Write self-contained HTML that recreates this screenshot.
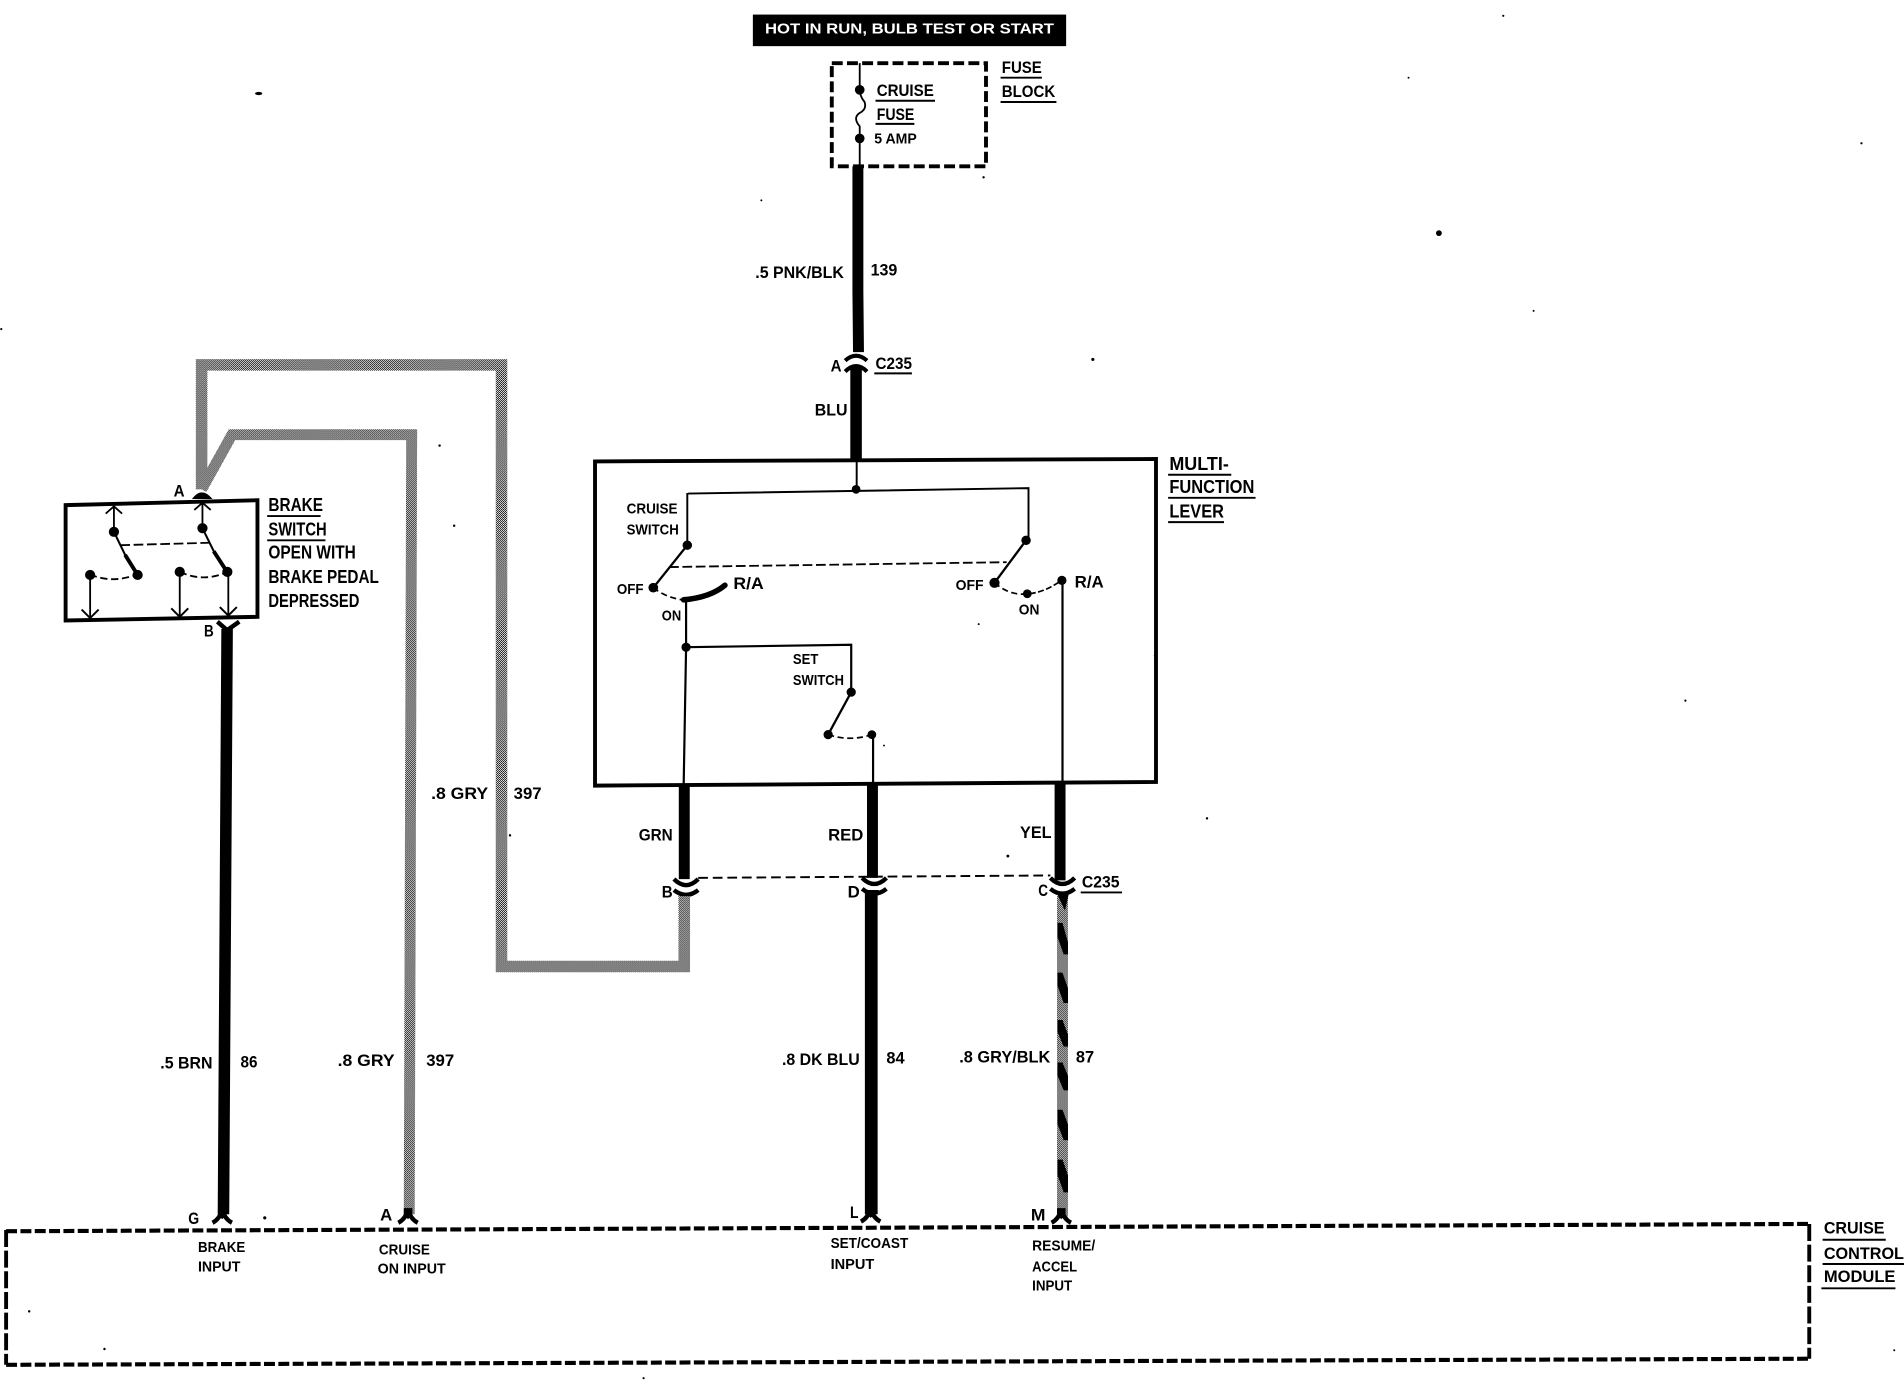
<!DOCTYPE html>
<html><head><meta charset="utf-8"><title>Cruise control wiring diagram</title>
<style>
html,body{margin:0;padding:0;background:#fff;width:1904px;height:1392px;overflow:hidden}
svg{display:block}
text{font-family:"Liberation Sans",sans-serif;font-weight:bold;fill:#000}
.s{font-size:15px}.m{font-size:13.5px}.x{font-size:12px}
.w{fill:none;stroke:#000}
.u{stroke:#000;stroke-width:1.6;fill:none}
</style></head><body>
<svg width="1904" height="1392" viewBox="0 0 1568 1146.4" xmlns="http://www.w3.org/2000/svg">
<defs>
<pattern id="g" width="1.66" height="1.66" patternUnits="userSpaceOnUse">
<rect width="1.66" height="1.66" fill="#fff"/><rect width=".83" height=".83" fill="#000"/><rect x=".83" y=".83" width=".83" height=".83" fill="#000"/>
</pattern>
<g id="c2"><path class="w" stroke-width="3.6" d="M-10,-4Q0,6 10,-4"/><path class="w" stroke-width="3.6" d="M-10,5Q0,13 10,5"/></g>
<g id="up"><path class="w" stroke-width="3.6" d="M-8,6Q-2,3 0,-5Q2,3 8,6"/><path d="M-3.500,-6H3.500V0L0,3L-3.500,0Z" fill="#000"/></g>
<g id="ar"><path class="w" stroke-width="1.6" d="M-7,-7L0,0L7,-7"/></g>
</defs>
<rect width="1568" height="1146.4" fill="#fff"/>

<!-- banner -->
<rect x="620" y="12" width="258" height="26" fill="#000"/>
<text x="630" y="27.500" font-size="12.500" style="fill:#fff" textLength="238" lengthAdjust="spacingAndGlyphs">HOT IN RUN, BULB TEST OR START</text>

<!-- fuse block -->
<rect x="685" y="52" width="127" height="85" fill="none" stroke="#000" stroke-width="3.200" stroke-dasharray="9 3.500"/>
<path class="w" stroke-width="1.500" d="M708,52V74Q708,79 712,84Q714,90 708,93Q702,97 708,104V137"/>
<circle cx="708" cy="74" r="4"/><circle cx="708" cy="114" r="4"/>
<text class="m" x="722" y="79" textLength="47" lengthAdjust="spacingAndGlyphs">CRUISE</text><path class="u" d="M721,83H770"/>
<text class="m" x="722" y="99" textLength="31" lengthAdjust="spacingAndGlyphs">FUSE</text><path class="u" d="M721,102H753"/>
<text class="x" x="720" y="118" font-size="11" textLength="35" lengthAdjust="spacingAndGlyphs">5 AMP</text>
<text class="m" x="825" y="60" textLength="33" lengthAdjust="spacingAndGlyphs">FUSE</text><path class="u" d="M824,64H858"/>
<text class="m" x="825" y="80" textLength="44" lengthAdjust="spacingAndGlyphs">BLOCK</text><path class="u" d="M824,84H870"/>

<!-- top wire -->
<path class="w" stroke-width="9" d="M706.500,137V240L707,290"/>
<path class="w" stroke-width="9.500" d="M705,301V379"/>
<path class="w" stroke-width="3.400" d="M696,297Q705,289 714,297"/>
<path class="w" stroke-width="3.400" d="M696,306Q705,297 714,306"/>
<text class="m" x="622" y="229" textLength="73" lengthAdjust="spacingAndGlyphs">.5 PNK/BLK</text>
<text class="m" x="717" y="227" textLength="22" lengthAdjust="spacingAndGlyphs">139</text>
<text class="m" x="684" y="306" textLength="9" lengthAdjust="spacingAndGlyphs">A</text>
<text class="m" x="721" y="304" textLength="30" lengthAdjust="spacingAndGlyphs">C235</text><path class="u" d="M720,307.500H751"/>
<text class="m" x="671" y="342" textLength="27" lengthAdjust="spacingAndGlyphs">BLU</text>

<!-- multifunction box -->
<path class="w" stroke-width="3.200" d="M490,380L952,378L952,644L490,647Z"/>
<path class="w" stroke-width="1.600" d="M705.500,380V403M566.500,406.500L847,402V445M566,406V449"/>
<circle cx="705" cy="403" r="3.600"/>
<circle cx="566" cy="449" r="3.900"/><circle cx="845" cy="445" r="3.900"/>
<path class="w" stroke-width="1.900" d="M566,449L538,484M845,445L819,480"/>
<path class="w" stroke-width="1.500" stroke-dasharray="8 3" d="M551,467L829,463"/>
<circle cx="538" cy="484" r="4"/><circle cx="819" cy="480" r="4.200"/>
<path class="w" stroke-width="1.400" stroke-dasharray="5 3" d="M538,484Q548,492 562,494M819,480Q832,491 846,489"/>
<path class="w" stroke-width="1.400" stroke-dasharray="5 2" d="M848,489Q862,487 874,478"/>
<circle cx="846" cy="489" r="3.600"/><circle cx="874.500" cy="478" r="3.800"/>
<path class="w" stroke-width="4.600" stroke-linecap="round" d="M563,494Q585,492 597,482"/>
<path class="w" stroke-width="1.800" d="M565,494V533L563,647M565,533L701,531V570"/>
<circle cx="565" cy="533" r="3.800"/><circle cx="701" cy="570" r="3.800"/>
<path class="w" stroke-width="1.900" d="M701,570L682,605"/>
<circle cx="682" cy="605" r="3.800"/><circle cx="718" cy="605" r="3.600"/>
<path class="w" stroke-width="1.400" stroke-dasharray="5 3" d="M682,605Q700,611 718,605"/>
<path class="w" stroke-width="1.800" d="M719,605V646M875,478V646"/>
<text class="x" x="516" y="423" textLength="42" lengthAdjust="spacingAndGlyphs">CRUISE</text>
<text class="x" x="516" y="440" textLength="43" lengthAdjust="spacingAndGlyphs">SWITCH</text>
<text class="x" x="508" y="489" textLength="22" lengthAdjust="spacingAndGlyphs">OFF</text>
<text class="m" x="604" y="485" textLength="25" lengthAdjust="spacingAndGlyphs">R/A</text>
<text class="x" x="545" y="511" textLength="16" lengthAdjust="spacingAndGlyphs">ON</text>
<text class="x" x="787" y="486" textLength="23" lengthAdjust="spacingAndGlyphs">OFF</text>
<text class="m" x="885" y="484" textLength="24" lengthAdjust="spacingAndGlyphs">R/A</text>
<text class="x" x="839" y="506" textLength="17" lengthAdjust="spacingAndGlyphs">ON</text>
<text class="x" x="653" y="547" textLength="21" lengthAdjust="spacingAndGlyphs">SET</text>
<text class="x" x="653" y="564" textLength="42" lengthAdjust="spacingAndGlyphs">SWITCH</text>
<text class="s" x="963" y="387" textLength="49" lengthAdjust="spacingAndGlyphs">MULTI-</text><path class="u" d="M962,391H1014"/>
<text class="s" x="963" y="406" textLength="70" lengthAdjust="spacingAndGlyphs">FUNCTION</text><path class="u" d="M962,410H1034"/>
<text class="s" x="963" y="426" textLength="45" lengthAdjust="spacingAndGlyphs">LEVER</text><path class="u" d="M962,430H1008"/>

<!-- lower wires in multi-function -->
<path class="w" stroke-width="9" d="M563.500,647V724M718.500,645V723M873,645V725"/>
<path class="w" stroke-width="1.600" stroke-dasharray="8 4" d="M575,723L865,721"/>
<use href="#c2" x="565" y="728"/><use href="#c2" x="720" y="727"/><use href="#c2" x="875" y="727"/>
<text class="m" x="526" y="692" textLength="28" lengthAdjust="spacingAndGlyphs">GRN</text>
<text class="m" x="682" y="692" textLength="29" lengthAdjust="spacingAndGlyphs">RED</text>
<text class="m" x="840" y="690" textLength="26" lengthAdjust="spacingAndGlyphs">YEL</text>
<text class="m" x="545" y="739" textLength="9" lengthAdjust="spacingAndGlyphs">B</text>
<text class="m" x="698" y="739" textLength="10" lengthAdjust="spacingAndGlyphs">D</text>
<text class="m" x="855" y="738" textLength="8" lengthAdjust="spacingAndGlyphs">C</text>
<text class="m" x="891" y="731" textLength="31" lengthAdjust="spacingAndGlyphs">C235</text><path class="u" d="M890,735H924"/>

<!-- gray wires -->
<path fill="none" stroke="url(#g)" stroke-width="9.500" stroke-linejoin="miter" d="M563.500,738V796H413V300.500H166V403"/>
<path fill="none" stroke="url(#g)" stroke-width="9" stroke-linejoin="miter" d="M166,403L191,358H339L337,1000"/>

<!-- black wires below -->
<path class="w" stroke-width="10.500" d="M717.500,734V1000"/>
<path class="w" stroke-width="9.500" d="M187,518L184,1000"/>
<path d="M712,733H724L718,739Z" fill="#000"/>
<!-- twisted wire -->
<path fill="none" stroke="url(#g)" stroke-width="9" d="M875,738V1002"/>
<path d="M871,737H880L877,750Z" fill="#000"/>
<g fill="#000">
<path d="M871,760L875,760L879.500,776V786L876,786L871,772Z"/>
<path d="M871,801L875,801L879.500,814V826L876,826L871,812Z"/>
<path d="M871,840L875,840L879.500,852V862L876,862L871,850Z"/>
<path d="M871,875L875,875L879.500,886V898L876,898L871,886Z"/>
<path d="M871,914L875,914L879.500,926V939L876,939L871,926Z"/>
<path d="M871,955L875,955L879.500,968V982L876,982L871,968Z"/>
</g>

<!-- brake switch -->
<path class="w" stroke-width="3.200" d="M54,416L212,412L212,508L54,511Z"/>
<path class="w" stroke-width="1.500" d="M93.800,417V438M166.700,414V435M74.200,473V509M148,471V508M188,471V507"/>
<path class="w" stroke-width="1.500" d="M87,423L93.800,417L100.500,423M160,420L166.700,414L173.500,420"/>
<circle cx="93.800" cy="438" r="4.200"/><circle cx="166.700" cy="435" r="4.200"/>
<path class="w" stroke-width="1.700" d="M93.800,438L104,459M166.700,435L177,456"/>
<path class="w" stroke-width="3.200" d="M103,457L113,473M176,454L187,471"/>
<path class="w" stroke-width="1.500" stroke-dasharray="8 3" d="M99,449L173,447"/>
<circle cx="113.300" cy="473.500" r="4.200"/><circle cx="187.200" cy="471" r="4.200"/>
<circle cx="74.200" cy="473.500" r="4.200"/><circle cx="148" cy="471" r="4.200"/>
<path class="w" stroke-width="1.500" stroke-dasharray="6 3" d="M74,473Q92,481 113,473M148,471Q168,480 187,471"/>
<use href="#ar" x="74.200" y="509"/><use href="#ar" x="148" y="508"/><use href="#ar" x="188" y="507"/>
<path d="M158,411Q166,400 175,411Z" fill="#000"/>
<path class="w" stroke-width="3.600" d="M179,512L187,519L197,512"/>
<text class="m" x="143" y="409" textLength="9" lengthAdjust="spacingAndGlyphs">A</text>
<text class="m" x="168" y="524" textLength="8" lengthAdjust="spacingAndGlyphs">B</text>
<text class="s" x="221" y="421" textLength="45" lengthAdjust="spacingAndGlyphs">BRAKE</text><path class="u" d="M220,425H264"/>
<text class="s" x="221" y="441" textLength="48" lengthAdjust="spacingAndGlyphs">SWITCH</text><path class="u" d="M220,445H268"/>
<text class="s" x="221" y="460" textLength="72" lengthAdjust="spacingAndGlyphs">OPEN WITH</text>
<text class="s" x="221" y="480" textLength="91" lengthAdjust="spacingAndGlyphs">BRAKE PEDAL</text>
<text class="s" x="221" y="500" textLength="75" lengthAdjust="spacingAndGlyphs">DEPRESSED</text>

<!-- wire labels -->
<text class="m" x="355" y="658" textLength="47" lengthAdjust="spacingAndGlyphs">.8 GRY</text>
<text class="m" x="423" y="658" textLength="23" lengthAdjust="spacingAndGlyphs">397</text>
<text class="m" x="132" y="880" textLength="43" lengthAdjust="spacingAndGlyphs">.5 BRN</text>
<text class="m" x="198" y="879" textLength="14" lengthAdjust="spacingAndGlyphs">86</text>
<text class="m" x="278" y="878" textLength="47" lengthAdjust="spacingAndGlyphs">.8 GRY</text>
<text class="m" x="351" y="878" textLength="23" lengthAdjust="spacingAndGlyphs">397</text>
<text class="m" x="644" y="877" textLength="64" lengthAdjust="spacingAndGlyphs">.8 DK BLU</text>
<text class="m" x="730" y="876" textLength="15" lengthAdjust="spacingAndGlyphs">84</text>
<text class="m" x="790" y="875" textLength="75" lengthAdjust="spacingAndGlyphs">.8 GRY/BLK</text>
<text class="m" x="886" y="875" textLength="15" lengthAdjust="spacingAndGlyphs">87</text>

<!-- module -->
<path class="w" stroke-width="3.400" stroke-dasharray="9 2.800" d="M5,1014L1489,1008"/>
<path class="w" stroke-width="3.400" stroke-dasharray="9 2.800" d="M5,1124L1489,1119"/>
<path class="w" stroke-width="3.200" stroke-dasharray="14 3" d="M5,1013V1124M1490,1008V1119"/>
<use href="#up" x="183" y="1001"/><use href="#up" x="336" y="1001"/><use href="#up" x="717" y="1000"/><use href="#up" x="874" y="1001"/>
<text class="m" x="155" y="1008" textLength="9" lengthAdjust="spacingAndGlyphs">G</text>
<text class="m" x="313" y="1005" textLength="10" lengthAdjust="spacingAndGlyphs">A</text>
<text class="m" x="700" y="1003" textLength="7" lengthAdjust="spacingAndGlyphs">L</text>
<text class="m" x="849" y="1005" textLength="12" lengthAdjust="spacingAndGlyphs">M</text>
<text class="x" x="163" y="1031" textLength="39" lengthAdjust="spacingAndGlyphs">BRAKE</text>
<text class="x" x="163" y="1047" textLength="35" lengthAdjust="spacingAndGlyphs">INPUT</text>
<text class="x" x="312" y="1033" textLength="42" lengthAdjust="spacingAndGlyphs">CRUISE</text>
<text class="x" x="311" y="1049" textLength="56" lengthAdjust="spacingAndGlyphs">ON INPUT</text>
<text class="x" x="684" y="1028" textLength="64" lengthAdjust="spacingAndGlyphs">SET/COAST</text>
<text class="x" x="684" y="1045" textLength="36" lengthAdjust="spacingAndGlyphs">INPUT</text>
<text class="x" x="850" y="1030" textLength="52" lengthAdjust="spacingAndGlyphs">RESUME/</text>
<text class="x" x="850" y="1047" textLength="37" lengthAdjust="spacingAndGlyphs">ACCEL</text>
<text class="x" x="850" y="1063" textLength="33" lengthAdjust="spacingAndGlyphs">INPUT</text>
<text class="m" x="1502" y="1016" textLength="50" lengthAdjust="spacingAndGlyphs">CRUISE</text><path class="u" d="M1501,1021H1553"/>
<text class="m" x="1502" y="1037" textLength="66" lengthAdjust="spacingAndGlyphs">CONTROL</text><path class="u" d="M1501,1041H1568"/>
<text class="m" x="1502" y="1056" textLength="59" lengthAdjust="spacingAndGlyphs">MODULE</text><path class="u" d="M1500,1061H1561"/>

<!-- specks -->
<g fill="#000">
<ellipse cx="213" cy="77" rx="3" ry="1.300"/><circle cx="1185" cy="192" r="2.400"/><circle cx="900" cy="296" r="1.300"/>
<circle cx="1238" cy="13" r=".9"/><circle cx="1533" cy="118" r=".9"/><circle cx="1" cy="271" r=".9"/>
<circle cx="362" cy="367" r="1"/><circle cx="374" cy="433" r="1"/><circle cx="420" cy="688" r="1"/>
<circle cx="994" cy="674" r="1"/><circle cx="1388" cy="577" r=".9"/><circle cx="218" cy="1003" r="1.300"/>
<circle cx="830" cy="705" r="1.200"/><circle cx="24" cy="1080" r="1"/><circle cx="86" cy="1111" r="1"/>
<circle cx="530" cy="1135" r=".9"/><circle cx="627" cy="165" r=".8"/><circle cx="1160" cy="64" r=".8"/>
<circle cx="806" cy="514" r=".8"/><circle cx="951" cy="540" r=".8"/><circle cx="728" cy="614" r=".8"/>
<circle cx="810" cy="146" r="1"/><circle cx="1263" cy="256" r=".8"/><circle cx="1560" cy="1112" r=".8"/>
</g>
</svg>
</body></html>
